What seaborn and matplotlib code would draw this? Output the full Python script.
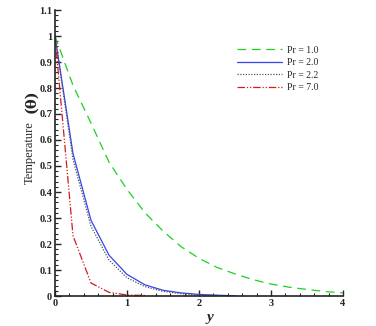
import numpy as np
import pandas as pd
import matplotlib
matplotlib.use("Agg")
import matplotlib.pyplot as plt
from matplotlib.ticker import MultipleLocator, FuncFormatter
import seaborn as sns

# ---- data ----
labels = ["Pr = 1.0", "Pr = 2.0", "Pr = 2.2", "Pr = 7.0"]
x_pr1 = [0, 0.25, 0.5, 0.75, 1.0, 1.25, 1.5, 1.75, 2.0, 2.25, 2.5, 2.75, 3.0, 3.25, 3.5, 3.75, 4.0]
t_pr1 = [1.0, 0.81, 0.665, 0.515, 0.41, 0.32, 0.25, 0.19, 0.145, 0.11, 0.085, 0.063, 0.046, 0.034, 0.025, 0.017, 0.012]
x_pr2 = [0, 0.25, 0.5, 0.75, 1.0, 1.25, 1.5, 1.75, 2.0, 2.25, 2.5]
t_pr2 = [1.0, 0.548, 0.291, 0.157, 0.083, 0.043, 0.022, 0.012, 0.006, 0.003, 0.001]
x_pr22 = [0, 0.25, 0.5, 0.75, 1.0, 1.25, 1.5, 1.75, 2.0, 2.25]
t_pr22 = [1.0, 0.525, 0.268, 0.138, 0.07, 0.036, 0.018, 0.009, 0.004, 0.002]
x_pr7 = [0, 0.25, 0.5, 0.75, 1.0, 1.25]
t_pr7 = [1.0, 0.232, 0.05, 0.014, 0.004, 0.002]

frames = []
for lab, xs, ts in zip(labels, [x_pr1, x_pr2, x_pr22, x_pr7], [t_pr1, t_pr2, t_pr22, t_pr7]):
    frames.append(pd.DataFrame({"y": xs, "theta": ts, "case": lab}))
df = pd.concat(frames, ignore_index=True)

sns.set_style("ticks")
plt.rcParams["font.family"] = ["Liberation Serif", "DejaVu Serif"]

fig = plt.figure(figsize=(3.76, 3.26), dpi=100)
ax = fig.add_axes([55/376, 30/326, 288/376, 286/326])

palette = {"Pr = 1.0": "#1fd01f", "Pr = 2.0": "#3344ee", "Pr = 2.2": "#555555", "Pr = 7.0": "#d41a1a"}
dashes = {"Pr = 1.0": (7, 4.5), "Pr = 2.0": "", "Pr = 2.2": (1, 1.2), "Pr = 7.0": (6, 1.5, 1, 1.5, 1, 1.5)}

sns.lineplot(data=df, x="y", y="theta", hue="case", style="case", palette=palette,
             dashes=dashes, sort=False, estimator=None, linewidth=0.9, ax=ax, legend=True)

ax.set_xlim(0, 4)
ax.set_ylim(0, 1.1)
ax.xaxis.set_major_locator(MultipleLocator(1))
ax.xaxis.set_minor_locator(MultipleLocator(0.2))
ax.yaxis.set_major_locator(MultipleLocator(0.1))
ax.yaxis.set_minor_locator(MultipleLocator(0.02))
ax.yaxis.set_major_formatter(FuncFormatter(lambda v, p: "%g" % round(v, 2)))
ax.xaxis.set_major_formatter(FuncFormatter(lambda v, p: "%g" % round(v, 2)))
ax.tick_params(which="major", direction="in", length=4, width=1, labelsize=7.5, pad=2)
ax.tick_params(which="minor", direction="in", length=2, width=0.8)
for lab in ax.get_xticklabels() + ax.get_yticklabels():
    lab.set_fontweight("bold")
sns.despine(ax=ax)
for s in ["left", "bottom"]:
    ax.spines[s].set_linewidth(1.2)
    ax.spines[s].set_color("#222222")

ax.set_xlabel("")
ax.set_ylabel("")
fig.text(210/376, 1 - 318/326, "y", ha="center", va="center", fontsize=11,
         fontweight="bold", fontstyle="italic")
fig.text(30/376, 1 - 153/326, "Temperature", rotation=90, ha="center", va="center", fontsize=9)
fig.text(31/376, 1 - 101/326, "(θ)", rotation=90, ha="center", va="center", fontsize=10.5,
         fontweight="bold", family=["DejaVu Serif"])

leg = ax.legend(loc="upper left", bbox_to_anchor=(178/288, 1 - 32/286), frameon=False,
                fontsize=7, handlelength=4.6, handletextpad=0.6, labelspacing=0.35,
                borderaxespad=0)
for l in leg.get_lines():
    l.set_linewidth(0.9)

fig.savefig("out.png", dpi=100)
